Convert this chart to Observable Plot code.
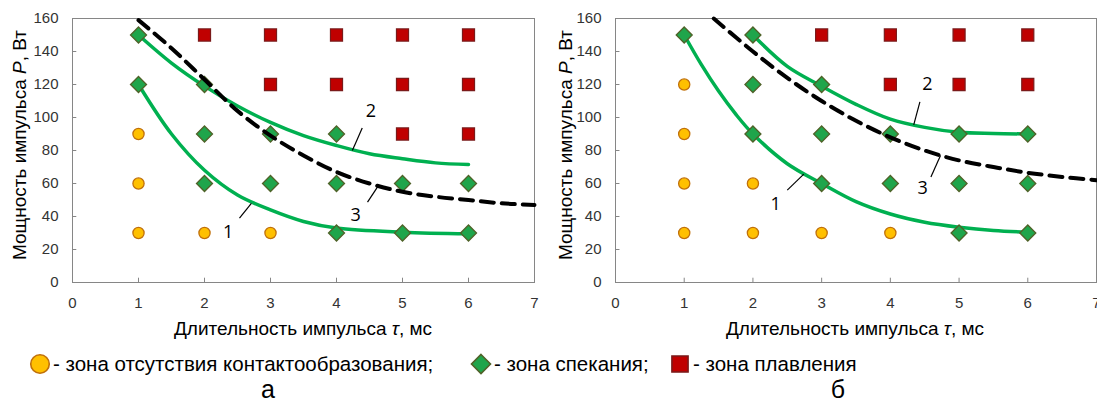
<!DOCTYPE html>
<html><head><meta charset="utf-8">
<script src="https://cdn.jsdelivr.net/npm/d3@7"></script>
<script src="https://cdn.jsdelivr.net/npm/@observablehq/plot@0.6"></script>
<style>
body{margin:0;background:#fff;}
#wrap{position:relative;width:1097px;height:403px;overflow:hidden;font-family:"Liberation Sans",Arial,sans-serif;color:#000;background:#fff;}
.panel{position:absolute;top:0;}
.ytitle{position:absolute;font-size:19px;white-space:nowrap;transform:translate(-50%,-50%) rotate(-90deg);}
.xtitle{position:absolute;font-size:19px;white-space:nowrap;transform:translate(-50%,-50%);}
.sub{position:absolute;font-size:25px;line-height:25px;transform:translate(-50%,-50%);}
.legtext{position:absolute;font-size:20.5px;white-space:nowrap;transform:translateY(-50%);}
.legicon{position:absolute;transform:translate(-50%,-50%);}
</style></head>
<body>
<div id="wrap">
  <div id="pa" class="panel" style="left:0"></div>
  <div id="pb" class="panel" style="left:560px"></div>
  <div class="ytitle" style="left:20px;top:145px">Мощность импульса <i>P</i>, Вт</div>
  <div class="ytitle" style="left:566px;top:145px">Мощность импульса <i>P</i>, Вт</div>
  <div class="xtitle" style="left:303px;top:329px">Длительность импульса <i>τ</i>, мс</div>
  <div class="xtitle" style="left:855px;top:329px">Длительность импульса <i>τ</i>, мс</div>
  <div id="legend"></div>
  <div class="sub" style="left:268px;top:389px">а</div>
  <div class="sub" style="left:838px;top:389px">б</div>
</div>
<script>
// ---- ticks ----
const xTicks = [0, 1, 2, 3, 4, 5, 6, 7];
const yTicks = [0, 20, 40, 60, 80, 100, 120, 140, 160];

// ---- legend ----
const legendLabels = ["- зона отсутствия контактообразования;", "- зона спекания;", "- зона плавления"];

// ---- panel а ----
const aNoContact = [[1,30],[2,30],[3,30],[1,60],[1,90]];
const aSinter = [[1,150],[1,120],[2,120],[2,90],[2,60],[3,90],[3,60],[4,90],[4,60],[4,30],[5,60],[5,30],[6,60],[6,30]];
const aMelt = [[2,150],[3,150],[4,150],[5,150],[6,150],[3,120],[4,120],[5,120],[6,120],[5,90],[6,90]];
const aCurve1 = [[1,120],[1.5,90],[2,68],[2.5,53],[3,44],[3.5,37],[4,33],[5,30.5],[6,29.5]];
const aCurve2 = [[1,150],[1.5,133],[2,119],[2.5,107],[3,97],[3.5,89],[4,83],[4.5,78],[5,75],[5.5,72.5],[6,71.5]];
const aCurve3 = [[1,159],[1.5,142],[2,123],[2.5,104],[3,89],[3.5,77],[4,67],[4.5,60],[5,55],[5.5,52],[6,50],[6.5,48],[7,47]];
const aLabels = [{t:"1",x:2.36,y:30.4},{t:"2",x:4.52,y:103.5},{t:"3",x:4.29,y:40.7}];
const aLeaders = [[2.53,39,2.71,48],[4.39,93.6,4.24,80],[4.47,48.7,4.64,59]];

// ---- panel б ----
const bNoContact = [[1,120],[1,90],[1,60],[1,30],[2,60],[2,30],[3,30],[4,30]];
const bSinter = [[1,150],[2,150],[2,120],[2,90],[3,120],[3,90],[3,60],[4,90],[4,60],[5,90],[5,60],[5,30],[6,90],[6,60],[6,30]];
const bMelt = [[3,150],[4,150],[5,150],[6,150],[4,120],[5,120],[6,120]];
const bCurve1 = [[1,150],[1.25,132],[1.5,116],[1.75,102],[2,90],[2.5,72],[3,60],[3.5,49],[4,41.5],[4.5,36.5],[5,33.5],[5.5,31.5],[6,30.5]];
const bCurve2 = [[2,150],[2.5,131],[3,119],[3.5,108],[4,99],[4.5,94],[5,91],[5.5,90.3],[6,90]];
const bCurve3 = [[1.43,160],[2,140],[2.5,124],[3,110],[3.5,98],[4,88],[4.5,80],[5,74],[5.5,70],[6,66.5],[6.5,64],[7,62]];
const bLabels = [{t:"1",x:2.33,y:47.4},{t:"2",x:4.54,y:120},{t:"3",x:4.47,y:57}];
const bLeaders = [[2.5,56,2.74,65.7],[4.43,109.5,4.34,95.5],[4.59,64,4.73,77]];

const C = {
  axis: "#868686",
  green: "#00B050",
  circleFill: "#FFC000", circleStroke: "#C0700A",
  diaFill: "#1FA54B", diaStroke: "#4F6228",
  sqFill: "#C00000", sqStroke: "#7A1A1A"
};

function panel(d, width, ml, mr) {
  return Plot.plot({
    width, height: 345,
    marginLeft: ml, marginRight: mr, marginTop: 18, marginBottom: 63,
    x: {domain: [0, 7]},
    y: {domain: [0, 160]},
    style: {fontFamily: "'Liberation Sans', Arial, sans-serif", fontSize: "15px", color: "#333", background: "transparent", overflow: "visible"},
    marks: [
      Plot.frame({stroke: C.axis}),
      Plot.ruleX(xTicks, {x: v => v, y1: 0, y2: 2.6, stroke: C.axis}),
      Plot.ruleY(yTicks, {y: v => v, x1: 0, x2: 0.065, stroke: C.axis}),
      Plot.axisX({ticks: xTicks, tickFormat: d3.format("d"), tickSize: 0, tickPadding: 15, label: null, fill: "#333"}),
      Plot.axisY({ticks: yTicks, tickFormat: d3.format("d"), tickSize: 0, tickPadding: 14, label: null, fill: "#333"}),
      Plot.line(d.c1, {x: p => p[0], y: p => p[1], stroke: C.green, strokeWidth: 3.5, curve: "catmull-rom"}),
      Plot.line(d.c2, {x: p => p[0], y: p => p[1], stroke: C.green, strokeWidth: 3.5, curve: "catmull-rom"}),
      Plot.link(d.leaders, {x1: p => p[0], y1: p => p[1], x2: p => p[2], y2: p => p[3], stroke: "#000", strokeWidth: 1.2}),
      Plot.text(d.labels, {x: "x", y: "y", text: "t", fontSize: 18, fill: "#000", fontFamily: "'Open Sans', sans-serif"}),
      Plot.dot(d.nc, {x: p => p[0], y: p => p[1], r: 5.6, symbol: "circle", fill: C.circleFill, stroke: C.circleStroke, strokeWidth: 1.3}),
      Plot.dot(d.si, {x: p => p[0], y: p => p[1], r: 7.2, symbol: "diamond2", fill: C.diaFill, stroke: C.diaStroke, strokeWidth: 1.3}),
      Plot.dot(d.me, {x: p => p[0], y: p => p[1], r: 6.8, symbol: "square", fill: C.sqFill, stroke: C.sqStroke, strokeWidth: 1.2}),
      Plot.line(d.c3, {x: p => p[0], y: p => p[1], stroke: "#000", strokeWidth: 4, strokeDasharray: "13,8", curve: "catmull-rom"})
    ]
  });
}

document.getElementById("pa").append(panel({nc: aNoContact, si: aSinter, me: aMelt, c1: aCurve1, c2: aCurve2, c3: aCurve3, labels: aLabels, leaders: aLeaders}, 560, 72, 26));
document.getElementById("pb").append(panel({nc: bNoContact, si: bSinter, me: bMelt, c1: bCurve1, c2: bCurve2, c3: bCurve3, labels: bLabels, leaders: bLeaders}, 537, 55, 1));

// legend (HTML, icons drawn with d3 symbols)
const icons = [
  {sym: d3.symbolCircle, size: 270, fill: C.circleFill, stroke: C.circleStroke, ix: 40, tx: 53},
  {sym: d3.symbolDiamond2, size: 230, fill: C.diaFill, stroke: C.diaStroke, ix: 481, tx: 494},
  {sym: d3.symbolSquare, size: 260, fill: C.sqFill, stroke: C.sqStroke, ix: 680, tx: 693}
];
const wrap = d3.select("#wrap");
const legY = 364;
legendLabels.forEach((t, i) => {
  const ic = icons[i];
  const s = wrap.append("svg").attr("class", "legicon").attr("width", 26).attr("height", 26)
    .style("left", ic.ix + "px").style("top", legY + "px");
  s.append("path").attr("transform", "translate(13,13)")
    .attr("d", d3.symbol(ic.sym, ic.size)())
    .attr("fill", ic.fill).attr("stroke", ic.stroke).attr("stroke-width", 1.6);
  wrap.append("div").attr("class", "legtext").style("left", ic.tx + "px").style("top", legY + "px").text(t);
});
</script>
</body></html>
